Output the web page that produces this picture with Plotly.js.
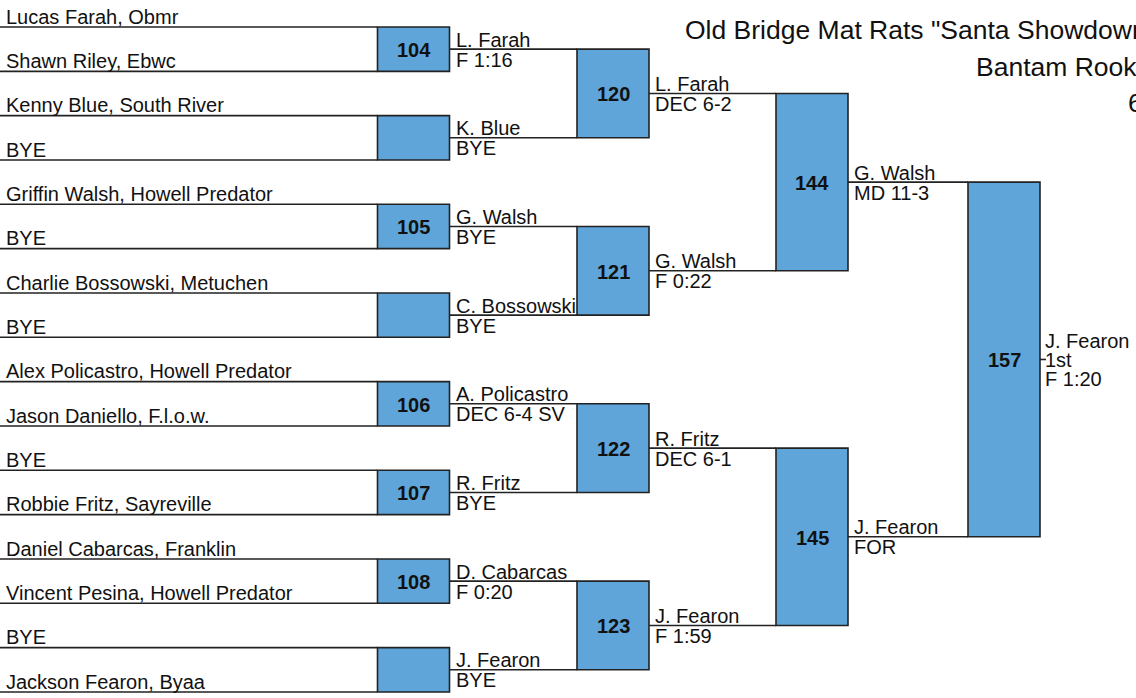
<!DOCTYPE html>
<html>
<head>
<meta charset="utf-8">
<script src="https://cdn.plot.ly/plotly-3.0.1.min.js"></script>
<style>
  html, body { margin: 0; padding: 0; background: #ffffff; }
  #chart { width: 1136px; height: 698px; }
</style>
</head>
<body>
<div id="chart"></div>
<script>
// ---------------- DATA ----------------
const titleLines = ['Old Bridge Mat Rats "Santa Showdown"', 'Bantam Rookies', '60'];

const entrants = [
  'Lucas Farah, Obmr', 'Shawn Riley, Ebwc',
  'Kenny Blue, South River', 'BYE',
  'Griffin Walsh, Howell Predator', 'BYE',
  'Charlie Bossowski, Metuchen', 'BYE',
  'Alex Policastro, Howell Predator', 'Jason Daniello, F.l.o.w.',
  'BYE', 'Robbie Fritz, Sayreville',
  'Daniel Cabarcas, Franklin', 'Vincent Pesina, Howell Predator',
  'BYE', 'Jackson Fearon, Byaa'
];

const round1Bouts   = ['104', '', '105', '', '106', '107', '108', ''];
const round1Winners = ['L. Farah', 'K. Blue', 'G. Walsh', 'C. Bossowski', 'A. Policastro', 'R. Fritz', 'D. Cabarcas', 'J. Fearon'];
const round1Results = ['F 1:16', 'BYE', 'BYE', 'BYE', 'DEC 6-4 SV', 'BYE', 'F 0:20', 'BYE'];

const round2Bouts   = ['120', '121', '122', '123'];
const round2Winners = ['L. Farah', 'G. Walsh', 'R. Fritz', 'J. Fearon'];
const round2Results = ['DEC 6-2', 'F 0:22', 'DEC 6-1', 'F 1:59'];

const semiBouts   = ['144', '145'];
const semiWinners = ['G. Walsh', 'J. Fearon'];
const semiResults = ['MD 11-3', 'FOR'];

const finalBouts   = ['157'];
const finalWinners = ['J. Fearon'];
const finalPlaces  = ['1st'];
const finalResults = ['F 1:20'];

// ---------------- LAYOUT CONSTANTS ----------------
const W = 1136, H = 698;
const FIRST_LINE = 27, LINE_STEP = 44.33;
const COL_LEFT = [377.5, 577, 776, 968];
const BOX_W = 72;
const FINAL_TICK = 6;
const FONT = 'Arial, "Liberation Sans", sans-serif';
const TXT = '#111111';
const LINE_COLOR = '#222222';
const BOX_FILL = '#5fa5d9';
const FS = 20;

const rounds = [
  {bouts: round1Bouts, winners: round1Winners, results: round1Results},
  {bouts: round2Bouts, winners: round2Winners, results: round2Results},
  {bouts: semiBouts, winners: semiWinners, results: semiResults},
  {bouts: finalBouts, winners: finalWinners, results: finalResults, places: finalPlaces}
];

const annotations = [];
const shapes = [];
const lx = [], ly = [];

function ann(x, y, text, opts) {
  annotations.push(Object.assign({
    x: x, y: y, xref: 'x', yref: 'y', text: text, showarrow: false,
    xanchor: 'left', yanchor: 'middle', borderpad: 0,
    font: {family: FONT, size: FS, color: TXT}
  }, opts || {}));
}

// entrant lines
let prevY = entrants.map((_, i) => FIRST_LINE + i * LINE_STEP);
entrants.forEach((name, i) => {
  lx.push(0, COL_LEFT[0], null);
  ly.push(prevY[i], prevY[i], null);
  ann(5, prevY[i] - 10.4, name);
});

rounds.forEach((rd, r) => {
  const left = COL_LEFT[r], right = left + BOX_W;
  const isFinal = r === rounds.length - 1;
  const nextLeft = isFinal ? right + FINAL_TICK : COL_LEFT[r + 1];
  const mids = [];
  rd.bouts.forEach((b, k) => {
    const top = prevY[2 * k], bot = prevY[2 * k + 1];
    const mid = (top + bot) / 2;
    mids.push(mid);
    shapes.push({
      type: 'rect', xref: 'x', yref: 'y', x0: left, x1: right, y0: top, y1: bot,
      fillcolor: BOX_FILL, line: {color: LINE_COLOR, width: 1.6}, layer: 'above'
    });
    if (b) ann((left + right) / 2, mid + 1, '<b>' + b + '</b>', {xanchor: 'center'});
    lx.push(right, nextLeft, null);
    ly.push(mid, mid, null);
    if (isFinal) {
      ann(right + FINAL_TICK - 2, mid - 18.5, rd.winners[k]);
      ann(right + FINAL_TICK - 2, mid + 0.5, rd.places[k]);
      ann(right + FINAL_TICK - 2, mid + 20, rd.results[k]);
    } else {
      ann(right + 5, mid - 9.5, rd.winners[k]);
      ann(right + 5, mid + 10.5, rd.results[k]);
    }
  });
  prevY = mids;
});

// title lines
const titleX = [684, 975, 1127];
const titleY = [30.3, 67, 103];
titleLines.forEach((t, i) => {
  ann(titleX[i], titleY[i], t, {font: {family: FONT, size: 26.5, color: TXT}});
});

const traces = [{
  x: lx, y: ly, type: 'scatter', mode: 'lines',
  line: {color: LINE_COLOR, width: 1.6}, hoverinfo: 'skip', showlegend: false
}];

const layout = {
  width: W, height: H,
  margin: {l: 0, r: 0, t: 0, b: 0, pad: 0},
  paper_bgcolor: '#ffffff', plot_bgcolor: '#ffffff',
  xaxis: {range: [0, W], visible: false, fixedrange: true},
  yaxis: {range: [H, 0], visible: false, fixedrange: true},
  shapes: shapes,
  annotations: annotations,
  showlegend: false
};

Plotly.newPlot('chart', traces, layout, {staticPlot: true, displayModeBar: false});
</script>
</body>
</html>
